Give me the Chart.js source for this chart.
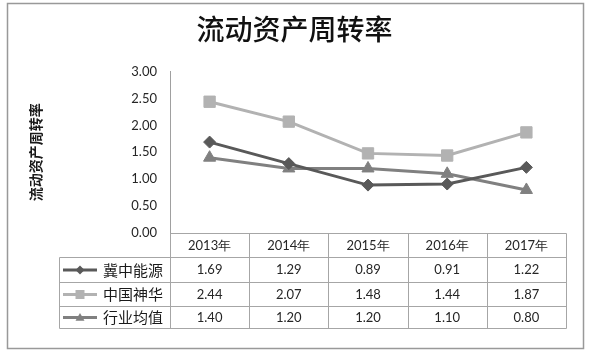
<!DOCTYPE html>
<html>
<head>
<meta charset="utf-8">
<script src="https://cdn.jsdelivr.net/npm/chart.js@4.4.0/dist/chart.umd.min.js"></script>
<style>
html, body { margin: 0; padding: 0; background: #fff; }
</style>
</head>
<body>
<canvas id="c" width="593" height="351"></canvas>
<script>
// 数据
const years = ['2013年', '2014年', '2015年', '2016年', '2017年'];
const jizhong = [1.69, 1.29, 0.89, 0.91, 1.22];
const shenhua = [2.44, 2.07, 1.48, 1.44, 1.87];
const hangye = [1.40, 1.20, 1.20, 1.10, 0.80];
const seriesNames = ['冀中能源', '中国神华', '行业均值'];
const yTicks = [0, 0.5, 1, 1.5, 2, 2.5, 3];

const numFont = '13px Lato';
const cjkFont = '15px "Noto Sans CJK SC"';

// 图例标记
function drawMarker(ctx, style, x, y, r, color) {
    ctx.fillStyle = color;
    ctx.beginPath();
    if (style === 'rectRot') {
        ctx.moveTo(x, y - r); ctx.lineTo(x + r, y); ctx.lineTo(x, y + r); ctx.lineTo(x - r, y);
    } else if (style === 'rect') {
        ctx.rect(x - r, y - r, 2 * r, 2 * r);
    } else {
        ctx.moveTo(x, y - r); ctx.lineTo(x + r, y + r * 0.7); ctx.lineTo(x - r, y + r * 0.7);
    }
    ctx.closePath();
    ctx.fill();
}

/* === 数据表 === */
const tablePlugin = {
    id: 'dataTable',
    afterDraw(chart) {
        const { ctx, chartArea: a, scales: { x } } = chart;
        const colW = (a.right - a.left) / years.length;
        const rows = [0, 24, 49, 73, 95].map(d => Math.round(a.bottom + d) + 0.5);
        const tableLeft = 59.5;
        const L = Math.round(a.left) + 0.5, R = Math.round(a.right) + 0.5;
        ctx.save();
        ctx.strokeStyle = '#a6a6a6';
        ctx.lineWidth = 1;
        ctx.beginPath();
        ctx.moveTo(L, rows[0]); ctx.lineTo(R, rows[0]);
        for (let i = 1; i < rows.length; i++) {
            ctx.moveTo(tableLeft, rows[i]); ctx.lineTo(R, rows[i]);
        }
        for (let i = 0; i <= years.length; i++) {
            const xx = Math.round(a.left + i * colW) + 0.5;
            ctx.moveTo(xx, rows[0]); ctx.lineTo(xx, rows[4]);
        }
        ctx.moveTo(tableLeft, rows[1]); ctx.lineTo(tableLeft, rows[4]);
        ctx.stroke();

        ctx.fillStyle = '#262626';
        ctx.textAlign = 'center';
        ctx.textBaseline = 'middle';
        ctx.font = numFont;
        years.forEach((yr, i) => {
            ctx.fillText(yr, x.getPixelForValue(i), (rows[0] + rows[1]) / 2);
        });
        chart.data.datasets.forEach((ds, r) => {
            const cy = (rows[r + 1] + rows[r + 2]) / 2;
            ctx.fillStyle = '#262626';
            ctx.textAlign = 'center';
            ctx.font = numFont;
            ds.data.forEach((v, i) => ctx.fillText(v.toFixed(2), x.getPixelForValue(i), cy));
            // 图例
            ctx.strokeStyle = ds.borderColor;
            ctx.lineWidth = 3;
            ctx.beginPath();
            ctx.moveTo(63, cy); ctx.lineTo(97, cy);
            ctx.stroke();
            drawMarker(ctx, ds.pointStyle, 80, cy, 4.5, ds.borderColor);
            ctx.fillStyle = '#1a1a1a';
            ctx.textAlign = 'left';
            ctx.font = cjkFont;
            ctx.fillText(ds.label, 103, cy);
        });

        // 外框
        ctx.strokeStyle = '#999';
        ctx.lineWidth = 1.5;
        ctx.strokeRect(7.5, 3.5, 576, 345);
        ctx.restore();
    }
};

const mk = (i, data, color, style, radius) => ({
    label: seriesNames[i],
    data: data,
    borderColor: color,
    backgroundColor: color,
    pointBackgroundColor: color,
    pointBorderColor: color,
    borderWidth: 3,
    pointStyle: style,
    pointRadius: radius,
    pointHoverRadius: radius,
    pointBorderWidth: 1,
    tension: 0
});

new Chart(document.getElementById('c'), {
    type: 'line',
    data: {
        labels: years,
        datasets: [
            mk(0, jizhong, '#595959', 'rectRot', 6),
            mk(1, shenhua, '#b2b2b2', 'rect', 8),
            mk(2, hangye, '#808080', 'triangle', 7)
        ]
    },
    options: {
        responsive: false,
        devicePixelRatio: 1,
        animation: false,
        layout: { padding: { left: 23, right: 27, top: 0, bottom: 118 } },
        plugins: {
            legend: { display: false },
            tooltip: { enabled: false },
            title: {
                display: true,
                text: '流动资产周转率',
                color: '#111',
                font: { family: '"Noto Sans CJK SC"', size: 28, weight: '500' },
                padding: { top: 13, bottom: 25 }
            }
        },
        scales: {
            x: { display: false, offset: true },
            y: {
                min: 0,
                max: 3,
                afterBuildTicks: s => { s.ticks = yTicks.map(v => ({ value: v })); },
                afterFit: s => { s.width = 170 - 23; },
                grid: { display: false, drawTicks: false },
                border: { display: true, color: '#a0a0a0', width: 1 },
                ticks: {
                    padding: 13,
                    color: '#262626',
                    font: { family: 'Lato', size: 13 },
                    callback: v => Number(v).toFixed(2)
                },
                title: {
                    display: true,
                    text: '流动资产周转率',
                    color: '#1a1a1a',
                    font: { family: '"Noto Sans CJK SC"', size: 14, weight: 'bold' },
                    padding: { top: 4, bottom: 0 }
                }
            }
        }
    },
    plugins: [tablePlugin]
});
</script>
</body>
</html>
